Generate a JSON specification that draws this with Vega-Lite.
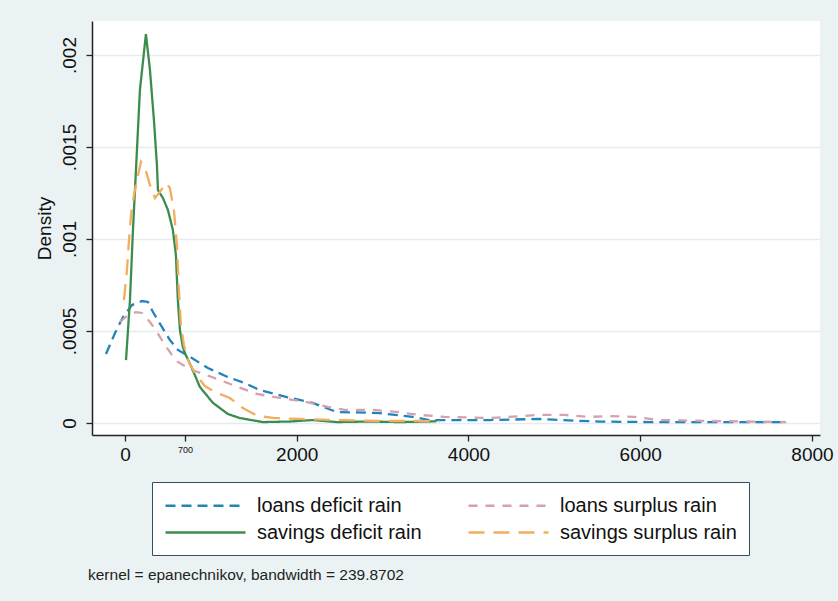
{
  "$schema": "https://vega.github.io/schema/vega-lite/v6.json",
  "autosize": "none",
  "width": 728,
  "height": 414,
  "padding": {"left": 92, "top": 21, "right": 18, "bottom": 166},
  "background": "#EAF2F3",
  "config": {
    "view": {"fill": "white", "stroke": null},
    "font": "Liberation Sans"
  },
  "title": {
    "text": "kernel = epanechnikov, bandwidth = 239.8702",
    "orient": "bottom",
    "anchor": "start",
    "frame": "group",
    "offset": 12,
    "dx": -4,
    "fontSize": 15.5,
    "fontWeight": "normal",
    "color": "#222"
  },
  "datasets": {
    "curves": [
      {"series": "loans deficit rain", "x": -221, "y": 0.000375},
      {"series": "loans deficit rain", "x": -116, "y": 0.000489},
      {"series": "loans deficit rain", "x": -23, "y": 0.000576},
      {"series": "loans deficit rain", "x": 81, "y": 0.000641},
      {"series": "loans deficit rain", "x": 198, "y": 0.000663},
      {"series": "loans deficit rain", "x": 267, "y": 0.000658},
      {"series": "loans deficit rain", "x": 326, "y": 0.000603},
      {"series": "loans deficit rain", "x": 430, "y": 0.000522},
      {"series": "loans deficit rain", "x": 523, "y": 0.000451},
      {"series": "loans deficit rain", "x": 616, "y": 0.000397},
      {"series": "loans deficit rain", "x": 779, "y": 0.000353},
      {"series": "loans deficit rain", "x": 965, "y": 0.000299},
      {"series": "loans deficit rain", "x": 1198, "y": 0.00025},
      {"series": "loans deficit rain", "x": 1395, "y": 0.000217},
      {"series": "loans deficit rain", "x": 1570, "y": 0.000179},
      {"series": "loans deficit rain", "x": 1884, "y": 0.000141},
      {"series": "loans deficit rain", "x": 2186, "y": 0.000109},
      {"series": "loans deficit rain", "x": 2465, "y": 0.00006},
      {"series": "loans deficit rain", "x": 2965, "y": 0.000054},
      {"series": "loans deficit rain", "x": 3349, "y": 0.000033},
      {"series": "loans deficit rain", "x": 3547, "y": 0.000016},
      {"series": "loans deficit rain", "x": 4244, "y": 0.000016},
      {"series": "loans deficit rain", "x": 4826, "y": 0.000022},
      {"series": "loans deficit rain", "x": 5058, "y": 0.000016},
      {"series": "loans deficit rain", "x": 5523, "y": 0.000008},
      {"series": "loans deficit rain", "x": 6105, "y": 0.000005},
      {"series": "loans deficit rain", "x": 6686, "y": 0.000005},
      {"series": "loans deficit rain", "x": 7698, "y": 0.000005},

      {"series": "loans surplus rain", "x": -58, "y": 0.000549},
      {"series": "loans surplus rain", "x": 35, "y": 0.000587},
      {"series": "loans surplus rain", "x": 128, "y": 0.000603},
      {"series": "loans surplus rain", "x": 198, "y": 0.000598},
      {"series": "loans surplus rain", "x": 291, "y": 0.000549},
      {"series": "loans surplus rain", "x": 372, "y": 0.000495},
      {"series": "loans surplus rain", "x": 465, "y": 0.000424},
      {"series": "loans surplus rain", "x": 547, "y": 0.00037},
      {"series": "loans surplus rain", "x": 616, "y": 0.000332},
      {"series": "loans surplus rain", "x": 698, "y": 0.00031},
      {"series": "loans surplus rain", "x": 779, "y": 0.000288},
      {"series": "loans surplus rain", "x": 1012, "y": 0.00025},
      {"series": "loans surplus rain", "x": 1314, "y": 0.000196},
      {"series": "loans surplus rain", "x": 1535, "y": 0.000158},
      {"series": "loans surplus rain", "x": 1802, "y": 0.000136},
      {"series": "loans surplus rain", "x": 2116, "y": 0.000114},
      {"series": "loans surplus rain", "x": 2419, "y": 0.000082},
      {"series": "loans surplus rain", "x": 2558, "y": 0.000071},
      {"series": "loans surplus rain", "x": 2884, "y": 0.000071},
      {"series": "loans surplus rain", "x": 3163, "y": 0.00006},
      {"series": "loans surplus rain", "x": 3430, "y": 0.000044},
      {"series": "loans surplus rain", "x": 3721, "y": 0.000033},
      {"series": "loans surplus rain", "x": 4244, "y": 0.000027},
      {"series": "loans surplus rain", "x": 4826, "y": 0.000044},
      {"series": "loans surplus rain", "x": 5116, "y": 0.000044},
      {"series": "loans surplus rain", "x": 5407, "y": 0.000033},
      {"series": "loans surplus rain", "x": 5640, "y": 0.000038},
      {"series": "loans surplus rain", "x": 5930, "y": 0.000033},
      {"series": "loans surplus rain", "x": 6221, "y": 0.000016},
      {"series": "loans surplus rain", "x": 6802, "y": 0.000011},
      {"series": "loans surplus rain", "x": 7698, "y": 0.000005},

      {"series": "savings deficit rain", "x": 12, "y": 0.000342},
      {"series": "savings deficit rain", "x": 58, "y": 0.000668},
      {"series": "savings deficit rain", "x": 93, "y": 0.001049},
      {"series": "savings deficit rain", "x": 128, "y": 0.001375},
      {"series": "savings deficit rain", "x": 174, "y": 0.00181},
      {"series": "savings deficit rain", "x": 244, "y": 0.002114},
      {"series": "savings deficit rain", "x": 291, "y": 0.001918},
      {"series": "savings deficit rain", "x": 337, "y": 0.001647},
      {"series": "savings deficit rain", "x": 372, "y": 0.001402},
      {"series": "savings deficit rain", "x": 384, "y": 0.001266},
      {"series": "savings deficit rain", "x": 442, "y": 0.001223},
      {"series": "savings deficit rain", "x": 500, "y": 0.001158},
      {"series": "savings deficit rain", "x": 558, "y": 0.001049},
      {"series": "savings deficit rain", "x": 593, "y": 0.000913},
      {"series": "savings deficit rain", "x": 616, "y": 0.000668},
      {"series": "savings deficit rain", "x": 640, "y": 0.000505},
      {"series": "savings deficit rain", "x": 674, "y": 0.000413},
      {"series": "savings deficit rain", "x": 698, "y": 0.00038},
      {"series": "savings deficit rain", "x": 779, "y": 0.000299},
      {"series": "savings deficit rain", "x": 872, "y": 0.000196},
      {"series": "savings deficit rain", "x": 1023, "y": 0.00011},
      {"series": "savings deficit rain", "x": 1198, "y": 0.000049},
      {"series": "savings deficit rain", "x": 1337, "y": 0.000027},
      {"series": "savings deficit rain", "x": 1605, "y": 0.000005},
      {"series": "savings deficit rain", "x": 1919, "y": 0.000008},
      {"series": "savings deficit rain", "x": 2186, "y": 0.000016},
      {"series": "savings deficit rain", "x": 2465, "y": 0.000005},
      {"series": "savings deficit rain", "x": 2849, "y": 0.000008},
      {"series": "savings deficit rain", "x": 3198, "y": 0.000005},
      {"series": "savings deficit rain", "x": 3547, "y": 0.000008},
      {"series": "savings deficit rain", "x": 3628, "y": 0.00001},

      {"series": "savings surplus rain", "x": -12, "y": 0.000668},
      {"series": "savings surplus rain", "x": 23, "y": 0.000832},
      {"series": "savings surplus rain", "x": 47, "y": 0.000995},
      {"series": "savings surplus rain", "x": 70, "y": 0.00113},
      {"series": "savings surplus rain", "x": 105, "y": 0.001239},
      {"series": "savings surplus rain", "x": 140, "y": 0.001321},
      {"series": "savings surplus rain", "x": 186, "y": 0.001419},
      {"series": "savings surplus rain", "x": 233, "y": 0.001386},
      {"series": "savings surplus rain", "x": 291, "y": 0.001294},
      {"series": "savings surplus rain", "x": 349, "y": 0.001223},
      {"series": "savings surplus rain", "x": 407, "y": 0.001256},
      {"series": "savings surplus rain", "x": 477, "y": 0.001304},
      {"series": "savings surplus rain", "x": 523, "y": 0.001277},
      {"series": "savings surplus rain", "x": 570, "y": 0.001158},
      {"series": "savings surplus rain", "x": 605, "y": 0.000967},
      {"series": "savings surplus rain", "x": 628, "y": 0.000723},
      {"series": "savings surplus rain", "x": 651, "y": 0.000533},
      {"series": "savings surplus rain", "x": 686, "y": 0.000424},
      {"series": "savings surplus rain", "x": 733, "y": 0.000342},
      {"series": "savings surplus rain", "x": 814, "y": 0.000272},
      {"series": "savings surplus rain", "x": 930, "y": 0.000201},
      {"series": "savings surplus rain", "x": 1047, "y": 0.000168},
      {"series": "savings surplus rain", "x": 1221, "y": 0.000136},
      {"series": "savings surplus rain", "x": 1372, "y": 0.000082},
      {"series": "savings surplus rain", "x": 1547, "y": 0.000038},
      {"series": "savings surplus rain", "x": 1744, "y": 0.000027},
      {"series": "savings surplus rain", "x": 2035, "y": 0.000022},
      {"series": "savings surplus rain", "x": 2500, "y": 0.000016},
      {"series": "savings surplus rain", "x": 2965, "y": 0.000011},
      {"series": "savings surplus rain", "x": 3430, "y": 0.000011},
      {"series": "savings surplus rain", "x": 3663, "y": 0.000008}
    ]
  },
  "layer": [
    {
      "mark": {"type": "rule", "color": "#E1EDF1", "strokeWidth": 1.5},
      "encoding": {"x": {"datum": 700, "type": "quantitative"}}
    },
    {
      "data": {"name": "curves"},
      "mark": {"type": "line", "strokeWidth": 2.3, "clip": true},
      "encoding": {
        "x": {
          "field": "x",
          "type": "quantitative",
          "scale": {"domain": [-384, 8093], "nice": false, "zero": false},
          "axis": {
            "title": null,
            "values": [0, 700, 2000, 4000, 6000, 8000],
            "format": "d",
            "grid": false,
            "domainColor": "#222",
            "domainWidth": 1.5,
            "tickColor": "#222",
            "tickWidth": 1.3,
            "tickSize": 6,
            "labelFontSize": {"condition": {"test": "datum.value == 700", "value": 9}, "value": 19},
            "labelColor": "#111",
            "labelPadding": 4,
            "labelFlush": false
          }
        },
        "y": {
          "field": "y",
          "type": "quantitative",
          "scale": {"domain": [-0.0000652, 0.002185], "nice": false, "zero": false},
          "axis": {
            "title": "Density",
            "titleFontSize": 19,
            "titleFontWeight": "normal",
            "titleColor": "#111",
            "titlePadding": 6,
            "values": [0, 0.0005, 0.001, 0.0015, 0.002],
            "labelExpr": "datum.value == 0 ? '0' : replace(format(datum.value, ''), '0.', '.')",
            "labelAngle": 270,
            "labelFontSize": 19,
            "labelColor": "#111",
            "labelPadding": 7,
            "grid": true,
            "gridColor": "#E1EDF1",
            "gridWidth": 1.5,
            "domainColor": "#222",
            "domainWidth": 1.5,
            "tickColor": "#222",
            "tickWidth": 1.3,
            "tickSize": 6
          }
        },
        "color": {
          "field": "series",
          "type": "nominal",
          "scale": {
            "domain": ["loans deficit rain", "loans surplus rain", "savings deficit rain", "savings surplus rain"],
            "range": ["#2383BE", "#D4A2AC", "#3C8C4E", "#F2AD5E"]
          },
          "legend": {
            "title": null,
            "orient": "none",
            "legendX": 60,
            "legendY": 461,
            "columns": 2,
            "direction": "horizontal",
            "padding": 12,
            "strokeColor": "#34505E",
            "fillColor": "#FFFFFF",
            "labelFontSize": 20,
            "labelColor": "#111",
            "labelLimit": 400,
            "labelOffset": 70,
            "symbolType": "M-1,0H7",
            "symbolSize": 400,
            "symbolOffset": 0,
            "symbolStrokeWidth": 2.3,
            "columnPadding": 41,
            "rowPadding": 5
          }
        },
        "strokeDash": {
          "field": "series",
          "type": "nominal",
          "scale": {
            "domain": ["loans deficit rain", "loans surplus rain", "savings deficit rain", "savings surplus rain"],
            "range": [[10, 6], [9, 8], [1, 0], [16, 9]]
          },
          "legend": null
        }
      }
    }
  ]
}
